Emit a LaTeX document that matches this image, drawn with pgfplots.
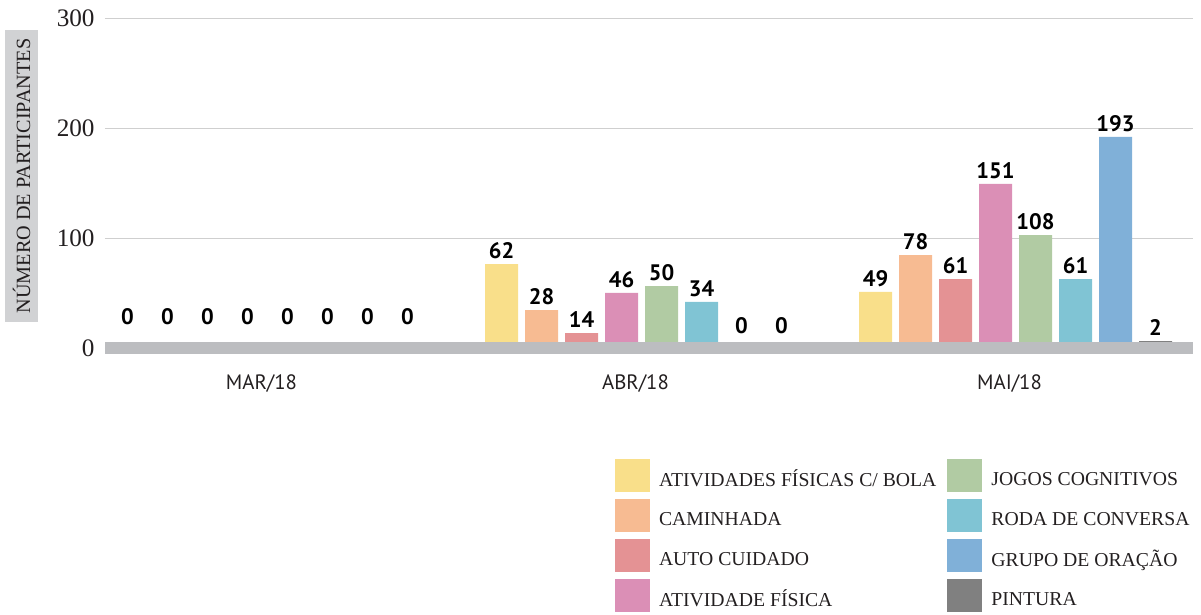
\documentclass[border=0pt]{standalone}
\usepackage{fontspec}
\setmainfont{Liberation Serif}
\newfontfamily\catfont{PT Sans}
\usepackage{pgfplots}
\pgfplotsset{compat=1.18}
\usepackage{pgfplotstable}

\definecolor{c1}{HTML}{F9DF8A}
\definecolor{c2}{HTML}{F7BB92}
\definecolor{c3}{HTML}{E49294}
\definecolor{c4}{HTML}{DB8FB6}
\definecolor{c5}{HTML}{B1CBA3}
\definecolor{c6}{HTML}{80C4D4}
\definecolor{c7}{HTML}{80B0D8}
\definecolor{c8}{HTML}{808080}
\definecolor{bandgray}{HTML}{BCBDC0}
\definecolor{labelgray}{HTML}{D1D2D4}
\definecolor{gridgray}{HTML}{CFCFCF}
\definecolor{txt}{HTML}{231F20}

% x: 0 = MAR/18, 1 = ABR/18, 2 = MAI/18 ; y = bar height as drawn ; lab = printed value ; dy = extra label lift (pt)
\pgfplotstableread{
x y lab dy
0 0 0 9
1 76.6 62 0
2 51.2 49 0
}\sA
\pgfplotstableread{
x y lab dy
0 0 0 9
1 34.8 28 0
2 84.8 78 0
}\sB
\pgfplotstableread{
x y lab dy
0 0 0 9
1 13.9 14 0
2 63.0 61 0
}\sC
\pgfplotstableread{
x y lab dy
0 0 0 9
1 50.5 46 0
2 149.4 151 0
}\sD
\pgfplotstableread{
x y lab dy
0 0 0 9
1 56.6 50 0
2 103.0 108 0
}\sE
\pgfplotstableread{
x y lab dy
0 0 0 9
1 42.1 34 0
2 63.0 61 0
}\sF
\pgfplotstableread{
x y lab dy
0 0 0 9
1 0 0 4.5
2 192.1 193 0
}\sG
\pgfplotstableread{
x y lab dy
0 0 0 9
1 0 0 4.5
2 6.6 2 0
}\sH

\pgfplotsset{
  mybar/.style 2 args={
    ybar, bar width=16.5pt, bar shift=#1, fill=#2, draw=none,
    point meta=explicit symbolic,
    visualization depends on={\thisrow{dy} \as \dy},
    nodes near coords,
    every node near coord/.append style={font=\catfont\bfseries\fontsize{11.2}{12}\selectfont,
      text=black, inner sep=0pt, anchor=south, xshift=#1, yshift=2.5pt+\dy pt},
  },
}

\begin{document}
\begin{tikzpicture}
\useasboundingbox (-52.5pt,-133.35pt) rectangle (548pt,174.15pt);
\begin{axis}[
  scale only axis,
  width=544pt, height=165pt,
  xmin=-0.4345, xmax=2.4746,
  ymin=0, ymax=300,
  clip=false,
  axis line style={draw=none},
  major tick length=0pt,
  xtick={0,1,2},
  xticklabels={MAR/18, ABR/18, MAI/18},
  xticklabel style={font=\catfont\fontsize{10.4}{12}\selectfont, text=txt, anchor=north, inner sep=0pt, yshift=-13pt, xshift=-3pt},
  ytick={0,100,200,300},
  yticklabel style={font=\fontsize{12.6}{14}\selectfont, text=txt, anchor=east, inner sep=0pt, xshift=-5pt},
  /pgf/number format/assume math mode=true,
  ymajorgrids,
  major grid style={draw=gridgray, line width=0.75pt},
  ylabel={NÚMERO DE PARTICIPANTES},
  ylabel style={at={(axis description cs:-0.07675,0.5221)}, anchor=center,
    fill=labelgray, minimum width=146pt, minimum height=16.5pt, inner sep=0pt,
    text=txt, font=\fontsize{10.1}{11}\selectfont},
  legend columns=2,
  legend cell align=left,
  legend image code/.code={\fill[#1] (0pt,-6pt) rectangle (17.5pt,10.5pt);},
  legend style={draw=none, fill=none, inner sep=0pt, outer sep=0pt,
    at={(0.46875,-0.3355)}, anchor=north west,
    font=\fontsize{9.85}{11}\selectfont, text=txt,
    row sep=3.5pt,
    nodes={inner sep=0pt},
    /tikz/every odd column/.append style={column sep=4.5pt},
    /tikz/every even column/.append style={column sep=5.5pt}},
]
\addplot[mybar={-70pt}{c1}] table[x=x, y=y, meta=lab] {\sA};
\addlegendentry{ATIVIDADES FÍSICAS C/ BOLA}
\addplot[mybar={10pt}{c5}] table[x=x, y=y, meta=lab] {\sE};
\addlegendentry{JOGOS COGNITIVOS}
\addplot[mybar={-50pt}{c2}] table[x=x, y=y, meta=lab] {\sB};
\addlegendentry{CAMINHADA}
\addplot[mybar={30pt}{c6}] table[x=x, y=y, meta=lab] {\sF};
\addlegendentry{RODA DE CONVERSA}
\addplot[mybar={-30pt}{c3}] table[x=x, y=y, meta=lab] {\sC};
\addlegendentry{AUTO CUIDADO}
\addplot[mybar={50pt}{c7}] table[x=x, y=y, meta=lab] {\sG};
\addlegendentry{GRUPO DE ORAÇÃO}
\addplot[mybar={-10pt}{c4}] table[x=x, y=y, meta=lab] {\sD};
\addlegendentry{ATIVIDADE FÍSICA}
\addplot[mybar={70pt}{c8}] table[x=x, y=y, meta=lab] {\sH};
\addlegendentry{PINTURA}
% grey base band at zero
\addplot[fill=bandgray, draw=none, forget plot] coordinates {(-0.4345,-5.6) (2.4746,-5.6) (2.4746,5.7) (-0.4345,5.7)} -- cycle;
\end{axis}
\end{tikzpicture}
\end{document}
